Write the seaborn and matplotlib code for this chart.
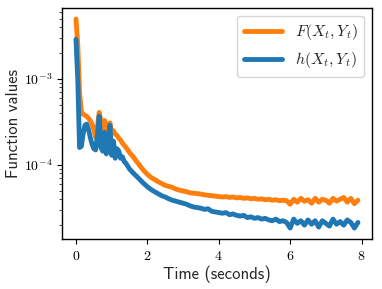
import numpy as np
import pandas as pd
import matplotlib
matplotlib.use("Agg")
import matplotlib.pyplot as plt
from matplotlib.ticker import FuncFormatter, LogLocator
import seaborn as sns

# time stamps (seconds)
time_s = [0.00, 0.05, 0.10, 0.15, 0.20, 0.25, 0.30, 0.35, 0.40, 0.45,
          0.50, 0.55, 0.60, 0.65, 0.70, 0.75, 0.80, 0.85, 0.90, 0.95,
          1.00, 1.05, 1.10, 1.15, 1.20, 1.25, 1.30, 1.35, 1.40, 1.45,
          1.50, 1.6, 1.7, 1.8, 1.9, 2.0, 2.1, 2.2, 2.3, 2.4,
          2.5, 2.6, 2.7, 2.8, 2.9, 3.0, 3.1, 3.2, 3.3, 3.4,
          3.5, 3.6, 3.7, 3.8, 3.9, 4.0, 4.1, 4.2, 4.3, 4.4,
          4.5, 4.6, 4.7, 4.8, 4.9, 5.0, 5.1, 5.2, 5.3, 5.4,
          5.5, 5.6, 5.7, 5.8, 5.9, 6.0, 6.1, 6.2, 6.3, 6.4,
          6.5, 6.6, 6.7, 6.8, 6.9, 7.0, 7.1, 7.2, 7.3, 7.4,
          7.5, 7.6, 7.7, 7.8, 7.9]

# F(X_t, Y_t) values, in units of 1e-4
f_vals = [50, 25, 7.0, 4.2, 3.9, 3.8, 3.7, 3.5, 3.3, 3.0,
          2.6, 2.1, 2.8, 4.1, 3.2, 2.6, 3.3, 2.7, 2.4, 3.1,
          2.4, 2.5, 2.3, 2.2, 2.05, 1.95, 1.8, 1.7, 1.6, 1.5,
          1.4, 1.25, 1.1, 0.97, 0.86, 0.78, 0.72, 0.68, 0.64, 0.61,
          0.58, 0.565, 0.55, 0.525, 0.51, 0.50, 0.49, 0.475, 0.47, 0.465,
          0.46, 0.45, 0.445, 0.44, 0.435, 0.43, 0.425, 0.43, 0.42, 0.425,
          0.415, 0.42, 0.41, 0.415, 0.405, 0.41, 0.40, 0.405, 0.395, 0.40,
          0.39, 0.395, 0.385, 0.39, 0.385, 0.35, 0.40, 0.37, 0.41, 0.38,
          0.395, 0.36, 0.41, 0.37, 0.40, 0.39, 0.36, 0.41, 0.38, 0.40,
          0.42, 0.37, 0.41, 0.355, 0.39]

# h(X_t, Y_t) values, in units of 1e-4
h_vals = [29, 10, 1.6, 1.65, 2.3, 2.9, 3.0, 2.6, 2.1, 1.75,
          1.55, 1.5, 2.2, 3.7, 1.6, 1.45, 2.4, 1.35, 1.6, 2.9,
          1.3, 1.9, 1.2, 1.55, 1.45, 1.2, 1.25, 1.1, 1.05, 0.97,
          0.9, 0.81, 0.74, 0.67, 0.61, 0.56, 0.52, 0.49, 0.465, 0.44,
          0.425, 0.405, 0.39, 0.38, 0.37, 0.36, 0.35, 0.335, 0.325, 0.32,
          0.315, 0.305, 0.31, 0.29, 0.285, 0.28, 0.275, 0.28, 0.265, 0.27,
          0.26, 0.255, 0.26, 0.245, 0.25, 0.24, 0.245, 0.235, 0.24, 0.23,
          0.225, 0.235, 0.22, 0.225, 0.215, 0.185, 0.235, 0.21, 0.225, 0.2,
          0.23, 0.205, 0.225, 0.19, 0.225, 0.21, 0.195, 0.235, 0.205, 0.22,
          0.2, 0.23, 0.215, 0.185, 0.215]

labels = [r"$F(X_t, Y_t)$", r"$h(X_t, Y_t)$"]
colors = ["#ff7f0e", "#1f77b4"]

# long format dataframe
df = pd.DataFrame({
    "time": time_s + time_s,
    "value": [v * 1e-4 for v in f_vals] + [v * 1e-4 for v in h_vals],
    "series": [labels[0]] * len(time_s) + [labels[1]] * len(time_s),
})

sns.set_style("ticks")
plt.rcParams["mathtext.fontset"] = "cm"
plt.rcParams["xtick.direction"] = "out"
plt.rcParams["ytick.direction"] = "out"

fig, ax = plt.subplots(figsize=(3.82, 2.89), dpi=100)
fig.subplots_adjust(left=0.162, right=0.974, bottom=0.173, top=0.972)

sns.lineplot(data=df, x="time", y="value", hue="series", hue_order=labels,
             palette=dict(zip(labels, colors)), estimator=None,
             linewidth=3.5, ax=ax)

ax.set_yscale("log")
ax.set_ylim(1.38e-5, 6.7e-3)
ax.yaxis.set_major_locator(LogLocator(base=10))
ax.yaxis.set_major_formatter(FuncFormatter(lambda v, p: r"$10^{%d}$" % round(np.log10(v))))
ax.xaxis.set_major_formatter(FuncFormatter(lambda v, p: r"$%d$" % round(v)))
ax.set_xticks([0, 2, 4, 6, 8])
ax.tick_params(labelsize=10, colors="black")

ax.set_xlabel("Time (seconds)", fontfamily="cmss10", fontsize=12, labelpad=2)
ax.set_ylabel("Function values", fontfamily="cmss10", fontsize=12, labelpad=2)

for s in ax.spines.values():
    s.set_color("black")
    s.set_linewidth(1.0)

ax.legend(loc="upper right", fontsize=11.5, handlelength=2.4, title=None)

fig.savefig("out.png", dpi=100)
